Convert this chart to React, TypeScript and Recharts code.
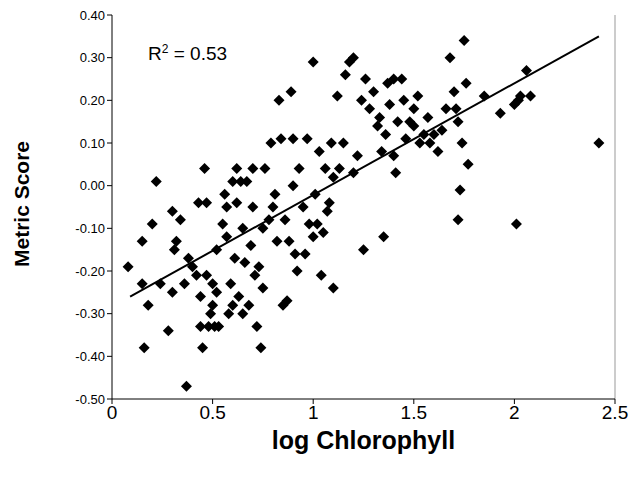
import React from 'react';
import { ComposedChart, Scatter, Line, XAxis, YAxis } from 'recharts';

const logChl = [0.08,0.15,0.15,0.16,0.18,0.2,0.22,0.24,0.28,0.3,0.31,0.3,0.32,0.34,0.36,0.37,0.38,0.4,0.42,0.43,0.44,0.44,0.45,0.46,0.47,0.47,0.48,0.49,0.5,0.5,0.51,0.52,0.52,0.53,0.55,0.56,0.57,0.57,0.58,0.59,0.6,0.6,0.61,0.62,0.62,0.63,0.64,0.65,0.65,0.66,0.67,0.68,0.69,0.7,0.7,0.71,0.72,0.73,0.74,0.75,0.75,0.76,0.78,0.79,0.8,0.81,0.82,0.83,0.84,0.85,0.86,0.87,0.88,0.89,0.9,0.9,0.91,0.92,0.93,0.95,0.96,0.97,0.98,1.0,1.0,1.01,1.02,1.03,1.04,1.05,1.06,1.07,1.08,1.09,1.1,1.1,1.12,1.13,1.15,1.16,1.18,1.2,1.2,1.22,1.24,1.25,1.26,1.28,1.3,1.32,1.33,1.34,1.35,1.36,1.37,1.38,1.4,1.4,1.41,1.42,1.44,1.45,1.46,1.48,1.5,1.5,1.52,1.53,1.55,1.57,1.58,1.6,1.62,1.64,1.66,1.68,1.7,1.71,1.72,1.72,1.73,1.74,1.75,1.76,1.77,1.85,1.93,2.0,2.02,2.03,2.06,2.08,2.01,2.42];
const metricScore = [-0.19,-0.13,-0.23,-0.38,-0.28,-0.09,0.01,-0.23,-0.34,-0.06,-0.15,-0.25,-0.13,-0.08,-0.23,-0.47,-0.17,-0.19,-0.21,-0.04,-0.26,-0.33,-0.38,0.04,-0.04,-0.21,-0.33,-0.3,-0.23,-0.28,-0.33,-0.15,-0.25,-0.33,-0.09,-0.02,-0.05,-0.12,-0.3,-0.23,0.01,-0.28,-0.17,-0.04,0.04,-0.26,0.01,-0.1,-0.3,-0.18,0.01,-0.28,-0.14,-0.05,0.04,-0.21,-0.33,-0.19,-0.38,-0.1,-0.24,0.04,-0.08,0.1,-0.05,-0.02,-0.13,0.2,0.11,-0.28,-0.08,-0.27,-0.13,0.22,0.0,0.11,-0.16,-0.2,0.04,-0.05,-0.16,0.11,-0.09,0.29,-0.12,-0.02,-0.09,0.08,-0.21,-0.11,0.04,-0.06,-0.04,0.1,-0.24,0.02,0.21,0.04,0.1,0.26,0.29,0.3,0.03,0.07,0.2,-0.15,0.25,0.18,0.22,0.14,0.16,0.08,-0.12,0.12,0.24,0.19,0.25,0.07,0.03,0.15,0.25,0.2,0.11,0.15,0.14,0.18,0.21,0.1,0.12,0.16,0.1,0.12,0.08,0.13,0.18,0.3,0.22,0.18,-0.08,0.15,-0.01,0.1,0.34,0.24,0.05,0.21,0.17,0.19,0.2,0.21,0.27,0.21,-0.09,0.1];
const trendX = [0.09, 2.42];
const trendY = [-0.26, 0.35];
const xTicks = [0, 0.5, 1, 1.5, 2, 2.5];
const yTicks = [-0.5, -0.4, -0.3, -0.2, -0.1, 0, 0.1, 0.2, 0.3, 0.4];

const points = logChl.map((x, i) => ({ x, y: metricScore[i] }));
const trend = trendX.map((x, i) => ({ x, t: trendY[i] }));

const Diamond = (props: any) => {
  const { cx, cy } = props;
  const r = 5.5;
  return <polygon points={`${cx},${cy - r} ${cx + r},${cy} ${cx},${cy + r} ${cx - r},${cy}`} fill="#000" />;
};

export default function App() {
  return (
    <div style={{ position: 'absolute', left: 0, top: 0, width: 635, height: 495, fontFamily: 'Arial, "Liberation Sans", sans-serif' }}>
      <ComposedChart width={635} height={495} margin={{ top: 15, right: 20, bottom: 34, left: 54 }}>
        <XAxis type="number" dataKey="x" domain={[0, 2.5]} ticks={xTicks} tickSize={5}
          stroke="#000" tick={{ fill: '#000', fontSize: 19 }} height={62}
          tickFormatter={(v) => String(v)} allowDataOverflow
          label={{ value: 'log Chlorophyll', position: 'insideBottom', offset: 12, fill: '#000', fontSize: 25, fontWeight: 'bold' }} />
        <YAxis type="number" dataKey="y" domain={[-0.5, 0.4]} ticks={yTicks} tickSize={5}
          stroke="#000" tick={{ fill: '#000', fontSize: 13 }} width={58}
          tickFormatter={(v) => v.toFixed(2)} allowDataOverflow
          label={{ value: 'Metric Score', angle: -90, position: 'insideLeft', offset: -32, dy: 60, fill: '#000', fontSize: 21, fontWeight: 'bold' }} />
        <Scatter data={points} dataKey="y" fill="#000" shape={Diamond} legendType="none" isAnimationActive={false} />
        <Line data={trend} dataKey="t" stroke="#000" strokeWidth={2} dot={false} isAnimationActive={false} />
        <line x1={615} y1={15} x2={615} y2={399} stroke="#999" />
      </ComposedChart>
      <div style={{ position: 'absolute', left: 148, top: 42, fontSize: 19 }}>
        R<sup style={{ fontSize: 12 }}>2</sup> = 0.53
      </div>
    </div>
  );
}
